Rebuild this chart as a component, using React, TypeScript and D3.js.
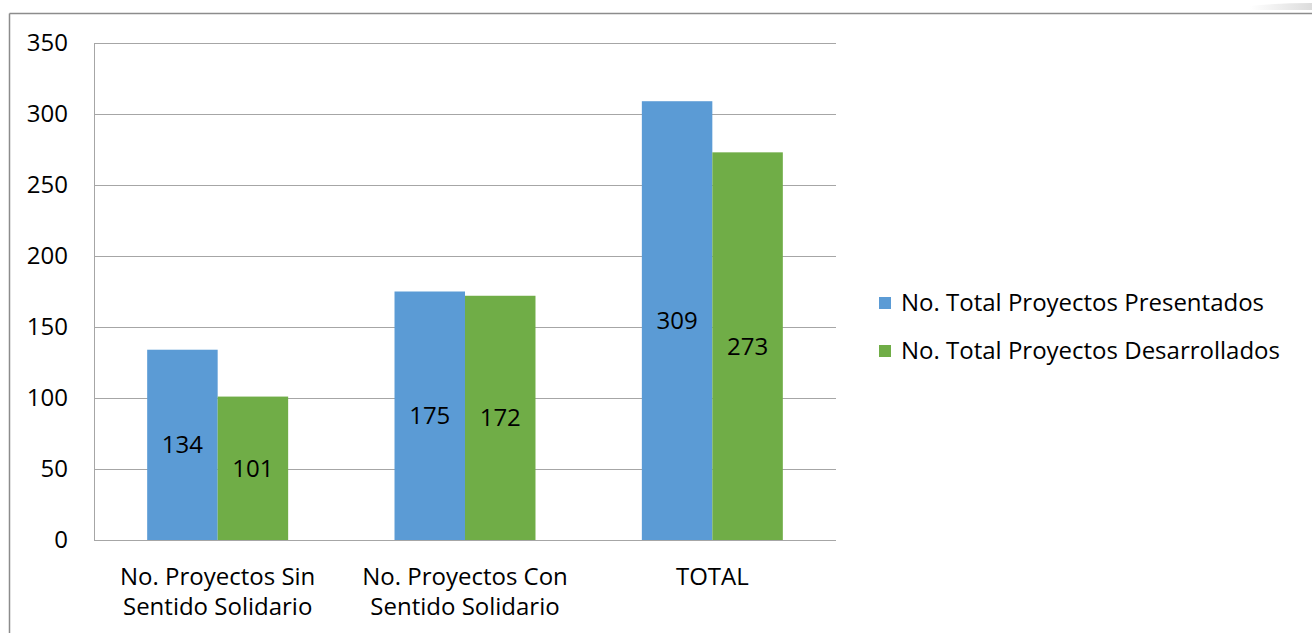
import React from "react";
import * as d3 from "d3";

const categories = [
  ["No. Proyectos Sin", "Sentido Solidario"],
  ["No. Proyectos Con", "Sentido Solidario"],
  ["TOTAL"],
];
const seriesNames = ["No. Total Proyectos Presentados", "No. Total Proyectos Desarrollados"];
const presentados = [134, 175, 309];
const desarrollados = [101, 172, 273];
const yTicks = [0, 50, 100, 150, 200, 250, 300, 350];
const colors = ["#5B9BD5", "#70AD47"];

const W = 1312;
const H = 633;
const FONT = "'Open Sans', 'Noto Sans', sans-serif";

export default function App() {
  const left = 94, right = 836, top = 43, bottom = 540;
  const y = d3.scaleLinear().domain([0, 350]).range([bottom, top]);
  const x0 = d3.scaleBand<number>().domain(d3.range(categories.length)).range([left, right]).paddingInner(0.43).paddingOuter(0.215);
  const x1 = d3.scaleBand<number>().domain([0, 1]).range([0, x0.bandwidth()]);
  const series = [presentados, desarrollados];

  return (
    <svg width={W} height={H} style={{ position: "absolute", left: 0, top: 0, display: "block" }} fontFamily={FONT}>
      <defs>
        <linearGradient id="deco" x1="0" x2="1" y1="0" y2="0">
          <stop offset="0" stopColor="#ffffff" />
          <stop offset="1" stopColor="#dcdcdc" />
        </linearGradient>
      </defs>
      <rect x={0} y={0} width={W} height={H} fill="#fff" />
      <path d="M1250,6 Q1280,3 1312,3 L1312,10 L1250,10 Z" fill="url(#deco)" />
      <line x1={9.5} x2={W} y1={13.5} y2={13.5} stroke="#8c8c8c" strokeWidth={1.5} />
      <line x1={9.5} x2={9.5} y1={13.5} y2={H} stroke="#8c8c8c" strokeWidth={1.5} />
      {yTicks.map((t) => (
        <g key={t}>
          <line x1={left} x2={right} y1={Math.round(y(t)) + 0.5} y2={Math.round(y(t)) + 0.5} stroke="#a6a6a6" strokeWidth={1} />
          <text x={68} y={y(t)} dy="0.35em" textAnchor="end" fontSize={24} fill="#000">{t}</text>
        </g>
      ))}
      <line x1={left + 0.5} x2={left + 0.5} y1={top} y2={bottom} stroke="#a6a6a6" />
      {series.map((vals, s) =>
        vals.map((v, i) => {
          const bx = (x0(i) as number) + (x1(s) as number);
          const bw = x1.bandwidth();
          return (
            <g key={`${s}-${i}`}>
              <rect x={bx} y={y(v)} width={bw} height={bottom - y(v)} fill={colors[s]} />
              <text x={bx + bw / 2} y={(y(v) + bottom) / 2} dy="0.35em" textAnchor="middle" fontSize={24} fill="#000">{v}</text>
            </g>
          );
        })
      )}
      {categories.map((lines, i) => (
        <text key={i} x={(x0(i) as number) + x0.bandwidth() / 2} y={577} textAnchor="middle" fontSize={24} fill="#000">
          {lines.map((l, j) => (
            <tspan key={j} x={(x0(i) as number) + x0.bandwidth() / 2} y={577 + j * 30} dy="0.35em">{l}</tspan>
          ))}
        </text>
      ))}
      {seriesNames.map((n, s) => (
        <g key={n}>
          <rect x={879} y={297 + s * 48} width={12} height={12} fill={colors[s]} />
          <text x={901} y={303 + s * 48} dy="0.35em" fontSize={24} fill="#000">{n}</text>
        </g>
      ))}
    </svg>
  );
}
